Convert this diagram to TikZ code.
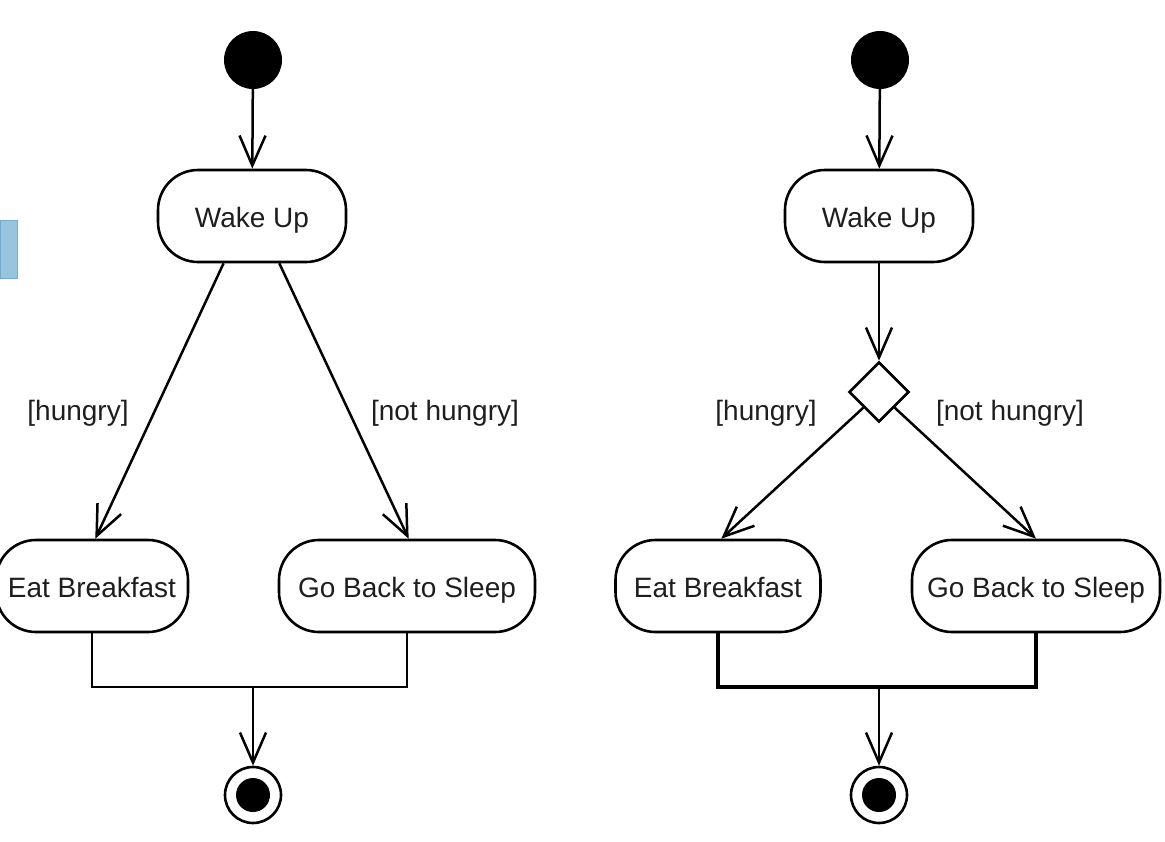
\documentclass[tikz,border=0pt]{standalone}
\usepackage{fontspec}
\setmainfont{Liberation Sans}
\usetikzlibrary{shapes.geometric}
\usetikzlibrary{arrows.meta}

\begin{document}
\begin{tikzpicture}[x=1pt,y=-1pt]
            \tikzstyle{every node}=[font=\fontsize{28}{32}\selectfont, text={rgb,255:red,30;green,30;blue,30}]
            \tikzstyle{action}=[draw, line width=2.6pt, rounded corners=40pt, minimum height=92pt, inner sep=0pt, text height=27pt, text depth=5pt]
            \tikzstyle{initial}=[circle, fill, minimum size=58pt, inner sep=0pt]
            \tikzstyle{final}=[circle, draw, line width=2.6pt, minimum size=56pt, inner sep=0pt]
            \tikzstyle{flow}=[line width=2.5pt, -{Straight Barb[length=30pt,width=26pt]}]
            \useasboundingbox (0,0) rectangle (1165,841);

            %Tab at left margin
            \draw [draw={rgb, 255:red, 120; green, 170; blue, 205}, fill={rgb, 255:red, 152; green, 196; blue, 221}] (0,220) rectangle (17,278);

            %Left diagram
            \node [initial] (startL) at (253,60) {};
            \node [action, minimum width=188pt] (wakeL) at (252,216) {Wake Up};
            \node [action, minimum width=192pt] (eatL) at (92,586) {Eat Breakfast};
            \node [action, minimum width=256pt] (sleepL) at (407,586) {Go Back to Sleep};
            \node [final] (endL) at (253,795) {};
            \fill (endL.center) circle (17);
            \coordinate (joinL) at (253,687);

            % Text Node
            \node (hungryL) at (78,413) {[hungry]};
            % Text Node
            \node (nothungryL) at (445,413) {[not hungry]};

            \draw [flow] (startL) -- (wakeL);
            \draw [flow] (wakeL.239) -- (eatL.86);
            \draw [flow] (wakeL.300) -- (sleepL.88);
            \draw [line width=2.5pt] (eatL.south) |- (joinL) -| (sleepL.south);
            \draw [flow] (joinL) -- (endL);

            %Right diagram
            \node [initial] (startR) at (880,60) {};
            \node [action, minimum width=188pt] (wakeR) at (879,216) {Wake Up};
            \node [diamond, draw, line width=2.6pt, minimum size=60pt, inner sep=0pt] (decision) at (879,392) {};
            \node [action, minimum width=205pt] (eatR) at (718,586) {Eat Breakfast};
            \node [action, minimum width=248pt] (sleepR) at (1036,586) {Go Back to Sleep};
            \node [final] (endR) at (879,795) {};
            \fill (endR.center) circle (17);
            \coordinate (joinR) at (879,687);

            % Text Node
            \node (hungryR) at (766,413) {[hungry]};
            % Text Node
            \node (nothungryR) at (1010,413) {[not hungry]};

            \draw [flow] (startR) -- (wakeR);
            \draw [flow] (wakeR) -- (decision);
            \draw [flow] (decision.south west) -- (eatR.86);
            \draw [flow] (decision.south east) -- (sleepR.north);
            \draw [line width=3.6pt] (eatR.south) |- (joinR) -| (sleepR.south);
            \draw [flow] (joinR) -- (endR);
\end{tikzpicture}
\end{document}
